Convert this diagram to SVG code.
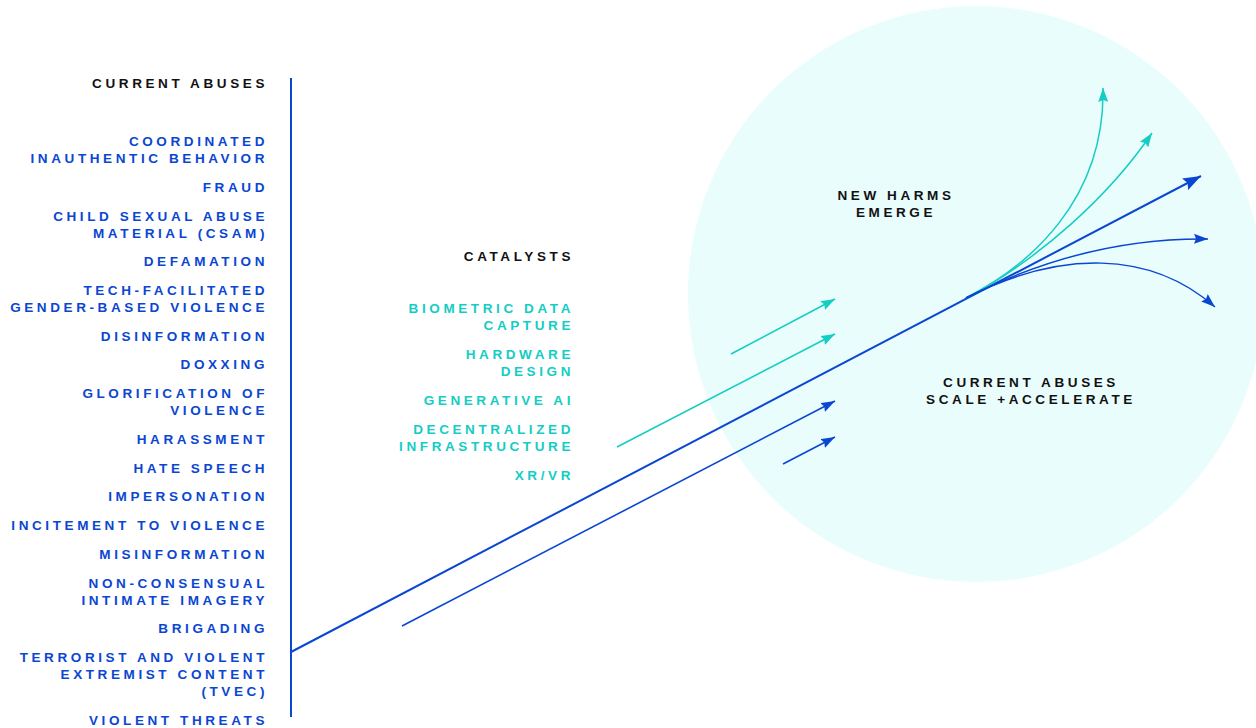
<svg xmlns="http://www.w3.org/2000/svg" width="1256" height="728" viewBox="0 0 1256 728">
  <style>
    text { font-family: "Liberation Sans", Arial, sans-serif; font-weight: bold; font-size: 13.5px; letter-spacing: 3.6px; }
    .ink { fill: #111111; }
    .blue { fill: #0a46d2; }
    .cyan { fill: #14cdc3; }
    .end { text-anchor: end; }
    .mid { text-anchor: middle; }
    .lb { stroke: #0a46d2; fill: none; }
    .lc { stroke: #14cdc3; fill: none; }
  </style>
  <defs>
    <marker id="ab" markerUnits="userSpaceOnUse" markerWidth="15" markerHeight="10" refX="14" refY="5" orient="auto">
      <path d="M0,0 L14,5 L0,10 L2,5 z" fill="#0a46d2"/>
    </marker>
    <marker id="ac" markerUnits="userSpaceOnUse" markerWidth="15" markerHeight="10" refX="14" refY="5" orient="auto">
      <path d="M0,0 L14,5 L0,10 L2,5 z" fill="#14cdc3"/>
    </marker>
    <marker id="abL" markerUnits="userSpaceOnUse" markerWidth="19" markerHeight="13" refX="18" refY="6.5" orient="auto">
      <path d="M0,0 L18,6.5 L0,13 L3,6.5 z" fill="#0a46d2"/>
    </marker>
  </defs>

  <!-- zone where harms grow -->
  <circle id="zone" cx="976" cy="294" r="288" fill="#e9fdfc"/>

  <!-- left column: current abuses -->
  <g id="abuses">
    <text class="ink end" x="268" y="88">CURRENT ABUSES</text>
    <text class="blue end" x="268" y="146">COORDINATED</text>
    <text class="blue end" x="268" y="163">INAUTHENTIC BEHAVIOR</text>
    <text class="blue end" x="268" y="192">FRAUD</text>
    <text class="blue end" x="268" y="221">CHILD SEXUAL ABUSE</text>
    <text class="blue end" x="268" y="238">MATERIAL (CSAM)</text>
    <text class="blue end" x="268" y="266">DEFAMATION</text>
    <text class="blue end" x="268" y="295">TECH-FACILITATED</text>
    <text class="blue end" x="268" y="312">GENDER-BASED VIOLENCE</text>
    <text class="blue end" x="268" y="341">DISINFORMATION</text>
    <text class="blue end" x="268" y="369">DOXXING</text>
    <text class="blue end" x="268" y="398">GLORIFICATION OF</text>
    <text class="blue end" x="268" y="415">VIOLENCE</text>
    <text class="blue end" x="268" y="444">HARASSMENT</text>
    <text class="blue end" x="268" y="473">HATE SPEECH</text>
    <text class="blue end" x="268" y="501">IMPERSONATION</text>
    <text class="blue end" x="268" y="530">INCITEMENT TO VIOLENCE</text>
    <text class="blue end" x="268" y="559">MISINFORMATION</text>
    <text class="blue end" x="268" y="588">NON-CONSENSUAL</text>
    <text class="blue end" x="268" y="605">INTIMATE IMAGERY</text>
    <text class="blue end" x="268" y="633">BRIGADING</text>
    <text class="blue end" x="268" y="662">TERRORIST AND VIOLENT</text>
    <text class="blue end" x="268" y="679">EXTREMIST CONTENT</text>
    <text class="blue end" x="268" y="696">(TVEC)</text>
    <text class="blue end" x="268" y="725">VIOLENT THREATS</text>
  </g>

  <!-- middle column: catalysts -->
  <g id="catalysts">
    <text class="ink end" x="574" y="261">CATALYSTS</text>
    <text class="cyan end" x="574" y="313">BIOMETRIC DATA</text>
    <text class="cyan end" x="574" y="330">CAPTURE</text>
    <text class="cyan end" x="574" y="359">HARDWARE</text>
    <text class="cyan end" x="574" y="376">DESIGN</text>
    <text class="cyan end" x="574" y="405">GENERATIVE AI</text>
    <text class="cyan end" x="574" y="434">DECENTRALIZED</text>
    <text class="cyan end" x="574" y="451">INFRASTRUCTURE</text>
    <text class="cyan end" x="574" y="480">XR/VR</text>
  </g>

  <g id="new-harms">
    <text class="ink mid" x="896" y="200">NEW HARMS</text>
    <text class="ink mid" x="896" y="217">EMERGE</text>
  </g>

  <g id="scale">
    <text class="ink mid" x="1031" y="387">CURRENT ABUSES</text>
    <text class="ink mid" x="1031" y="404">SCALE +ACCELERATE</text>
  </g>

  <g id="connectors">
    <!-- axis of current abuses -->
    <line class="lb" x1="291" y1="78" x2="291" y2="717" stroke-width="2"/>
    <!-- main trajectory -->
    <path class="lb" d="M291,652 L1201,176" stroke-width="2" marker-end="url(#abL)"/>
    <!-- catalyst arrows -->
    <path class="lc" d="M731,354 L835,299" stroke-width="1.6" marker-end="url(#ac)"/>
    <path class="lc" d="M617,447 L835,334" stroke-width="1.6" marker-end="url(#ac)"/>
    <path class="lb" d="M402,626 L835,401" stroke-width="1.6" marker-end="url(#ab)"/>
    <path class="lb" d="M783,464 L835,437" stroke-width="1.6" marker-end="url(#ab)"/>
    <!-- fan of new harms -->
    <path class="lc" d="M966,298 C1030,265 1105,200 1103,88" stroke-width="1.5" marker-end="url(#ac)"/>
    <path class="lc" d="M966,298 C1040,259 1110,195 1152,133" stroke-width="1.5" marker-end="url(#ac)"/>
    <path class="lb" d="M966,298 C1050,255 1130,238 1208,239" stroke-width="1.5" marker-end="url(#ab)"/>
    <path class="lb" d="M966,298 C1060,250 1150,250 1215,307" stroke-width="1.5" marker-end="url(#ab)"/>
  </g>
</svg>
